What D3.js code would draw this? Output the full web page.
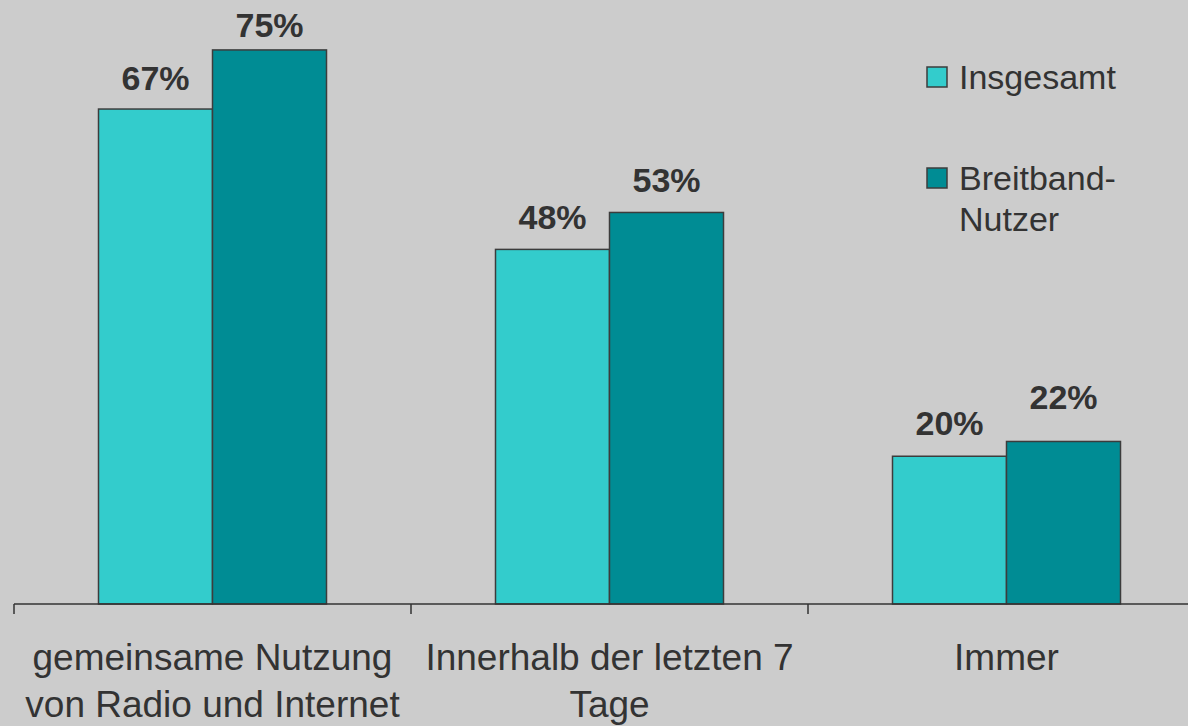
<!DOCTYPE html>
<html>
<head>
<meta charset="utf-8">
<script src="https://cdn.jsdelivr.net/npm/d3@7"></script>
<style>
  html, body { margin: 0; padding: 0; background: #cccccc; }
  svg { display: block; font-family: "Liberation Sans", Arial, sans-serif; }
</style>
</head>
<body>
<svg width="1188" height="726"></svg>
<script>
'use strict';

const categories = [
  ['gemeinsame Nutzung', 'von Radio und Internet'],
  ['Innerhalb der letzten 7', 'Tage'],
  ['Immer']
];

const series_names = [
  ['Insgesamt'],
  ['Breitband-', 'Nutzer']
];

const insgesamt = [67, 48, 20];
const breitband = [75, 53, 22];

const series_colors = ['#33cccc', '#008c94'];

// hand-placed value labels in the original: gap between label baseline and bar top
const label_gap = [[19, 13], [20, 20], [21, 32]];

const svg = d3.select('svg');
const baseline = 604;

const x = d3.scaleBand()
  .domain(d3.range(categories.length))
  .range([14, 14 + 397 * 3])
  .padding(0);

const xs = d3.scaleBand()
  .domain([0, 1])
  .range([x.bandwidth() / 2 - 114, x.bandwidth() / 2 + 114])
  .padding(0);

const y = d3.scaleLinear().domain([0, 80]).range([baseline, 13]);

const values = [insgesamt, breitband];

const groups = svg.selectAll('g.cat')
  .data(d3.range(categories.length))
  .join('g')
  .attr('class', 'cat')
  .attr('transform', i => `translate(${x(i)},0)`);

groups.selectAll('rect')
  .data(i => values.map((v, s) => ({ s, i, v: v[i] })))
  .join('rect')
  .attr('x', d => xs(d.s))
  .attr('y', d => y(d.v))
  .attr('width', xs.bandwidth())
  .attr('height', d => baseline - y(d.v))
  .attr('fill', d => series_colors[d.s])
  .attr('stroke', '#3c3c3c')
  .attr('stroke-width', 1.5);

groups.selectAll('text.val')
  .data(i => values.map((v, s) => ({ s, i, v: v[i] })))
  .join('text')
  .attr('class', 'val')
  .attr('x', d => xs(d.s) + xs.bandwidth() / 2)
  .attr('y', d => y(d.v) - label_gap[d.i][d.s])
  .attr('text-anchor', 'middle')
  .attr('font-size', 34)
  .attr('font-weight', 'bold')
  .attr('fill', '#333333')
  .text(d => d.v + '%');

// axis line and ticks
svg.append('line')
  .attr('x1', 14).attr('x2', 1188)
  .attr('y1', baseline).attr('y2', baseline)
  .attr('stroke', '#333333').attr('stroke-width', 1.5);

svg.selectAll('line.tick')
  .data(d3.range(categories.length))
  .join('line')
  .attr('class', 'tick')
  .attr('x1', i => x(i)).attr('x2', i => x(i))
  .attr('y1', baseline).attr('y2', baseline + 10)
  .attr('stroke', '#333333').attr('stroke-width', 1.5);

// category labels
const catText = svg.selectAll('text.cat')
  .data(categories)
  .join('text')
  .attr('class', 'cat')
  .attr('text-anchor', 'middle')
  .attr('font-size', 37)
  .attr('fill', '#333333');

catText.selectAll('tspan')
  .data((lines, i) => lines.map(l => ({ l, i })))
  .join('tspan')
  .attr('x', d => x(d.i) + x.bandwidth() / 2)
  .attr('y', (d, j) => 670 + j * 47)
  .text(d => d.l);

// legend
const legend = svg.append('g').attr('transform', 'translate(927,67)');
const items = legend.selectAll('g')
  .data(series_names)
  .join('g')
  .attr('transform', (d, i) => `translate(0,${i * 101})`);

items.append('rect')
  .attr('width', 20).attr('height', 20)
  .attr('fill', (d, i) => series_colors[i])
  .attr('stroke', '#3c3c3c').attr('stroke-width', 1.5);

items.append('text')
  .attr('font-size', 34)
  .attr('fill', '#333333')
  .selectAll('tspan')
  .data(d => d)
  .join('tspan')
  .attr('x', 32)
  .attr('y', (d, j) => 22 + j * 41)
  .text(d => d);
</script>
</body>
</html>
